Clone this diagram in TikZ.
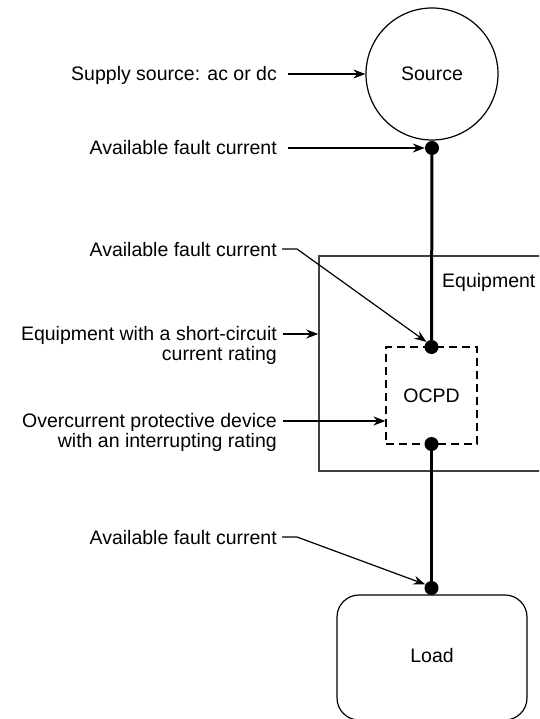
\documentclass[tikz,border=0pt]{standalone}
\usepackage{fontspec}
\setmainfont{Liberation Sans}
\usetikzlibrary{arrows.meta}
\begin{document}
\begin{tikzpicture}[x=1pt,y=-1pt,
  font=\fontsize{19.5}{20}\selectfont,
  lab/.style={inner sep=0pt,align=right},
  arr/.style={line width=1.2pt,-{Stealth[length=12pt,width=9pt]}},
  dot/.style={circle,fill=black,inner sep=0pt,minimum size=14pt},
  wire/.style={line width=3pt},
  thinbox/.style={draw,line width=1.2pt}]
\useasboundingbox (0,0) rectangle (539,719);
\clip (0,0) rectangle (539,719);
% shapes
\node[thinbox,circle,minimum size=132pt,inner sep=0pt] (src) at (432,74) {Source};
\node[draw=black!75,line width=1.5pt,minimum width=226pt,minimum height=215pt,inner sep=0pt] (eq) at (432,363.5) {};
\node[anchor=base west,inner sep=0pt] (eqlab) at (442,287) {Equipment};
\node[draw,dashed,dash pattern=on 8pt off 5pt,line width=1.2pt,minimum width=91pt,minimum height=97pt,inner sep=0pt] (ocpd) at (431.5,395.5) {OCPD};
\node[thinbox,rounded corners=22pt,minimum width=190pt,minimum height=125pt,inner sep=0pt] (load) at (432,657.5) {};
\node (loadlab) at (432,656) {Load};
% dots
\node[dot] (d1) at (432,148) {};
\node[dot] (d2) at (431.5,347) {};
\node[dot] (d3) at (431.5,444) {};
\node[dot] (d4) at (431.5,588) {};
\draw[wire] (d1) -- (d2);
\draw[wire] (d3) -- (d4);
% labels
\node[lab,anchor=base east] (l1) at (277,81) {Supply source: ac or dc};
\node[lab,anchor=base east] (l2) at (277,155) {Available fault current};
\node[lab,anchor=base east] (l3) at (277,256) {Available fault current};
\node[lab,anchor=north east] (l4) at (277,326.5) {Equipment with a short-circuit\\current rating};
\node[lab,anchor=north east] (l5) at (277,413.5) {Overcurrent protective device\\with an interrupting rating};
\node[lab,anchor=base east] (l6) at (277,544) {Available fault current};
% connector start points
\coordinate (s1) at (288,74);
\coordinate (s2) at (288,148);
\coordinate (s3) at (282,249);
\coordinate (s4) at (283,334);
\coordinate (s5) at (283,421);
\coordinate (s6) at (282,537);
% connectors
\draw[arr] (s1) -- (src.west);
\draw[arr] (s2) -- (d1.west);
\draw[arr] (s3) -- ++(15,0) -- (d2.north west);
\draw[arr] (s4) -- (s4 -| eq.west);
\draw[arr] (s5) -- (s5 -| ocpd.west);
\draw[arr] (s6) -- ++(15,0) -- (d4.150);
\end{tikzpicture}
\end{document}
